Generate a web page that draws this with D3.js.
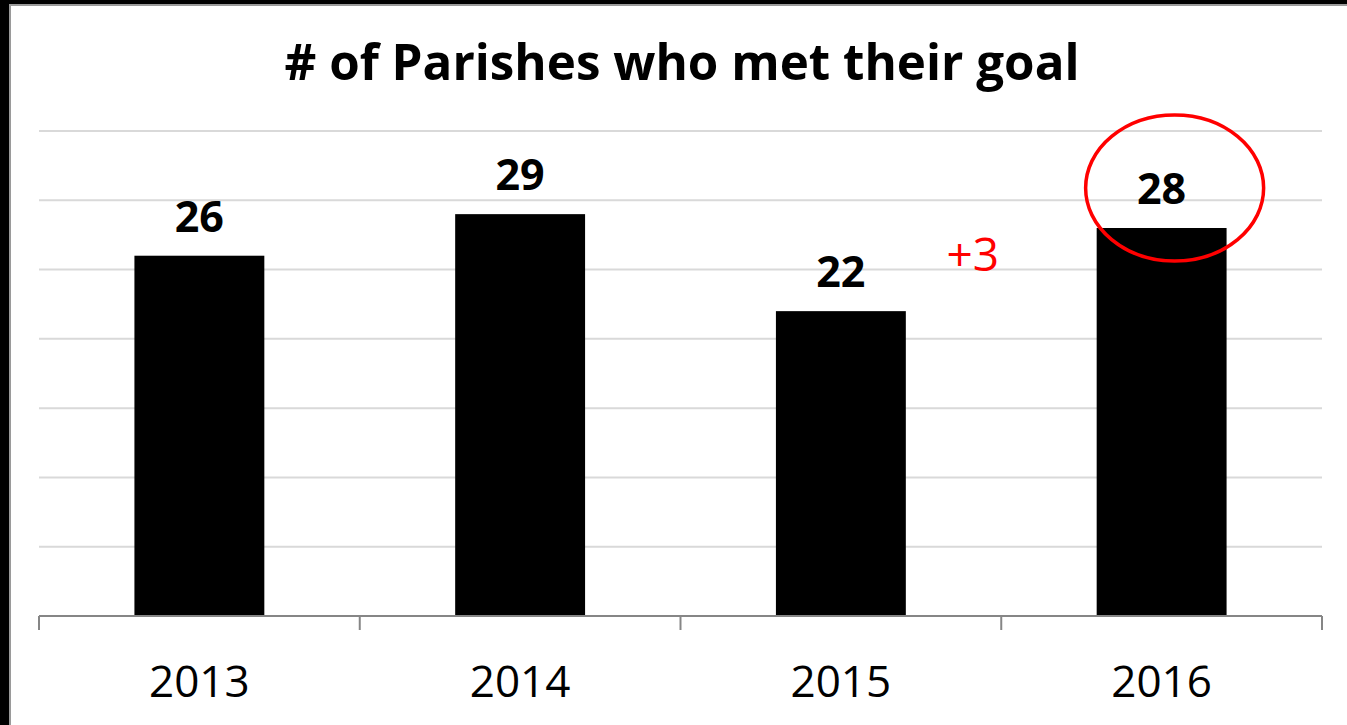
<!DOCTYPE html>
<html>
<head>
<meta charset="utf-8">
<script src="https://cdn.jsdelivr.net/npm/d3@7"></script>
<style>
  html, body { margin: 0; padding: 0; background: #fff; }
  svg { display: block; }
</style>
</head>
<body>
<div id="chart"></div>
<script>
const years = ['2013', '2014', '2015', '2016'];
const parishes = [26, 29, 22, 28];
const yTicks = [0, 5, 10, 15, 20, 25, 30, 35];
const titleText = '# of Parishes who met their goal';
const noteText = '+3';

const W = 1347, H = 725;
const margin = {top: 131, right: 25, bottom: 109, left: 39};
const width = W - margin.left - margin.right;
const height = H - margin.top - margin.bottom;

const svg = d3.select('#chart').append('svg')
    .attr('width', W)
    .attr('height', H);

// slide frame
svg.append('rect').attr('x', 0).attr('y', 0).attr('width', 9).attr('height', H)
    .attr('fill', '#000');
svg.append('rect').attr('x', 0).attr('y', 0).attr('width', W).attr('height', 4)
    .attr('fill', '#000');
svg.append('line').attr('x1', 10).attr('x2', 10).attr('y1', 4).attr('y2', H)
    .attr('stroke', '#9a9a9a').attr('stroke-width', 2);
svg.append('line').attr('x1', 9).attr('x2', W).attr('y1', 5).attr('y2', 5)
    .attr('stroke', '#9a9a9a').attr('stroke-width', 2);

svg.append('text')
    .attr('x', 682)
    .attr('y', 80)
    .attr('text-anchor', 'middle')
    .attr('textLength', 795)
    .attr('lengthAdjust', 'spacingAndGlyphs')
    .style('font-family', '"Open Sans", sans-serif')
    .style('font-weight', 'bold')
    .style('font-size', '51px')
    .text(titleText);

const g = svg.append('g')
    .attr('transform', 'translate(' + margin.left + ',' + margin.top + ')');

const x = d3.scaleBand().domain(years).range([0, width])
    .paddingInner(0.595).paddingOuter(0.2975);
const y = d3.scaleLinear().domain([0, 35]).range([height, 0]);

// gridlines
g.append('g')
    .selectAll('line')
    .data(yTicks.slice(1))
    .enter()
    .append('line')
    .attr('x1', 0)
    .attr('x2', width)
    .attr('y1', (d) => y(d))
    .attr('y2', (d) => y(d))
    .attr('stroke', '#d9d9d9')
    .attr('stroke-width', 2);

g.append('g')
    .selectAll('rect')
    .data(parishes)
    .enter()
    .append('rect')
    .attr('x', (d, i) => x(years[i]))
    .attr('y', (d) => y(d))
    .attr('width', x.bandwidth())
    .attr('height', (d) => height - y(d))
    .attr('fill', '#000');

// category axis with ticks between bands
const xAxis = g.append('g').attr('transform', 'translate(0,' + height + ')');
xAxis.append('line')
    .attr('x1', 0).attr('x2', width)
    .attr('y1', 0).attr('y2', 0)
    .attr('stroke', '#868686').attr('stroke-width', 2);
xAxis.selectAll('.tick-mark')
    .data(d3.range(years.length + 1))
    .enter()
    .append('line')
    .attr('class', 'tick-mark')
    .attr('x1', (i) => i * x.step())
    .attr('x2', (i) => i * x.step())
    .attr('y1', 0).attr('y2', 14)
    .attr('stroke', '#868686').attr('stroke-width', 2);
xAxis.selectAll('.tick-label')
    .data(years)
    .enter()
    .append('text')
    .attr('class', 'tick-label')
    .attr('x', (d) => x(d) + x.bandwidth() / 2)
    .attr('y', 81)
    .attr('text-anchor', 'middle')
    .style('font-family', '"Open Sans", sans-serif')
    .style('font-size', '44px')
    .text((d) => d);

// value labels
g.append('g')
    .selectAll('text')
    .data(parishes)
    .enter()
    .append('text')
    .attr('x', (d, i) => x(years[i]) + x.bandwidth() / 2)
    .attr('y', (d) => y(d) - 24)
    .attr('text-anchor', 'middle')
    .style('font-family', '"Open Sans", sans-serif')
    .style('font-weight', 'bold')
    .style('font-size', '43px')
    .text((d) => d);

// annotation
g.append('text')
    .attr('x', x('2015') + x.bandwidth() + 67)
    .attr('y', y(25) + 1)
    .attr('text-anchor', 'middle')
    .attr('fill', '#ff0000')
    .style('font-family', '"Open Sans", sans-serif')
    .style('font-size', '46px')
    .text(noteText);

g.append('ellipse')
    .attr('cx', x('2016') + x.bandwidth() / 2 + 13)
    .attr('cy', y(28) - 40)
    .attr('rx', 89)
    .attr('ry', 73)
    .attr('fill', 'none')
    .attr('stroke', '#ff0000')
    .attr('stroke-width', 3.5);
</script>
</body>
</html>
